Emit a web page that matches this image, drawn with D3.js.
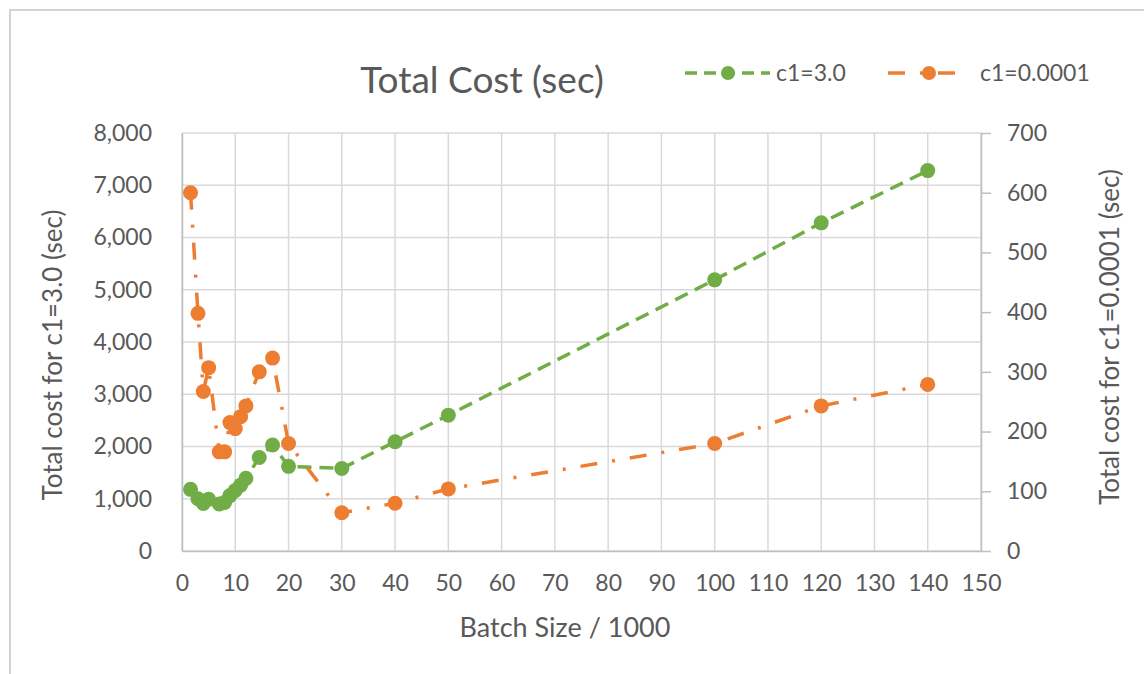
<!DOCTYPE html>
<html>
<head>
<meta charset="utf-8">
<script src="https://cdn.jsdelivr.net/npm/d3@7"></script>
<style>
  body { margin: 0; background: #fff; }
  text { font-family: Lato, "Open Sans", sans-serif; fill: #595959; }
</style>
</head>
<body>
<div id="wrapper"></div>
<script>
// values
const batchSizes = [1.6, 3, 4, 5, 7, 8, 9, 10, 11, 12, 14.5, 17, 20, 30, 40, 50, 100, 120, 140]
const costC1High = [1180, 1000, 910, 990, 900, 930, 1060, 1160, 1260, 1390, 1790, 2030, 1620, 1580, 2090, 2600, 5190, 6280, 7280]
const costC1Low = [600, 398, 267, 307, 166, 166, 215, 205, 225, 243, 300, 323, 180, 64, 80, 104, 180, 243, 279]

const xTicks = [0, 10, 20, 30, 40, 50, 60, 70, 80, 90, 100, 110, 120, 130, 140, 150]
const leftTicks = [0, 1000, 2000, 3000, 4000, 5000, 6000, 7000, 8000]
const rightTicks = [0, 100, 200, 300, 400, 500, 600, 700]

const seriesNames = ["c1=3.0", "c1=0.0001"]
const green = "#70AD47"
const orange = "#ED7D31"

function drawChart() {
  let dimensions = {
    width: 1144,
    height: 674,
    margin: { top: 133, right: 163, bottom: 123, left: 182 },
  }
  dimensions.boundedWidth = dimensions.width - dimensions.margin.left - dimensions.margin.right
  dimensions.boundedHeight = dimensions.height - dimensions.margin.top - dimensions.margin.bottom

  const wrapper = d3.select("#wrapper").append("svg")
    .attr("width", dimensions.width)
    .attr("height", dimensions.height)

  // outer chart border
  wrapper.append("rect")
    .attr("x", 10).attr("y", 10)
    .attr("width", 1200).attr("height", 700)
    .attr("fill", "none")
    .attr("stroke", "#d4d4d4")
    .attr("stroke-width", 2)

  const bounds = wrapper.append("g")
    .attr("transform", `translate(${dimensions.margin.left},${dimensions.margin.top})`)

  // scales
  const xScale = d3.scaleLinear().domain([0, 150]).range([0, dimensions.boundedWidth])
  const yLeft = d3.scaleLinear().domain([0, 8000]).range([dimensions.boundedHeight, 0])
  const yRight = d3.scaleLinear().domain([0, 700]).range([dimensions.boundedHeight, 0])

  // gridlines
  bounds.append("g").selectAll("line").data(leftTicks).join("line")
    .attr("x1", 0).attr("x2", dimensions.boundedWidth)
    .attr("y1", d => yLeft(d)).attr("y2", d => yLeft(d))
    .attr("stroke", "#d9d9d9").attr("stroke-width", 1.5)
  bounds.append("g").selectAll("line").data(xTicks).join("line")
    .attr("x1", d => xScale(d)).attr("x2", d => xScale(d))
    .attr("y1", 0).attr("y2", dimensions.boundedHeight)
    .attr("stroke", "#d9d9d9").attr("stroke-width", 1.5)

  // axes
  const xAxis = bounds.append("g")
    .attr("transform", `translate(0,${dimensions.boundedHeight})`)
    .call(d3.axisBottom(xScale).tickValues(xTicks).tickSize(0).tickPadding(24))
  xAxis.select(".domain").attr("stroke", "#bfbfbf").attr("stroke-width", 1.5)

  const leftAxis = bounds.append("g")
    .call(d3.axisLeft(yLeft).tickValues(leftTicks).tickFormat(d3.format(",")).tickSize(0).tickPadding(30))
  leftAxis.select(".domain").attr("stroke", "#bfbfbf").attr("stroke-width", 1.5)

  const rightAxis = bounds.append("g")
    .attr("transform", `translate(${dimensions.boundedWidth},0)`)
    .call(d3.axisRight(yRight).tickValues(rightTicks).tickSize(10).tickSizeOuter(0).tickPadding(16))
  rightAxis.select(".domain").attr("stroke", "#bfbfbf").attr("stroke-width", 1.5)
  rightAxis.selectAll(".tick line").attr("stroke", "#bfbfbf").attr("stroke-width", 1.5)

  wrapper.selectAll(".tick text")
    .attr("font-size", 23)
    .style("font-family", "Lato, 'Open Sans', sans-serif")
    .attr("fill", "#595959")

  // series
  const greenData = batchSizes.map((x, i) => ({ x, y: costC1High[i] }))
  const orangeData = batchSizes.map((x, i) => ({ x, y: costC1Low[i] }))

  const greenLine = d3.line().x(d => xScale(d.x)).y(d => yLeft(d.y))
  const orangeLine = d3.line().x(d => xScale(d.x)).y(d => yRight(d.y))

  bounds.append("path")
    .attr("d", greenLine(greenData))
    .attr("fill", "none")
    .attr("stroke", green)
    .attr("stroke-width", 3.5)
    .attr("stroke-dasharray", "14,8")

  bounds.append("path")
    .attr("d", orangeLine(orangeData))
    .attr("fill", "none")
    .attr("stroke", orange)
    .attr("stroke-width", 3.5)
    .attr("stroke-dasharray", "17,15,3,15")

  bounds.append("g").selectAll("circle").data(greenData).join("circle")
    .attr("cx", d => xScale(d.x)).attr("cy", d => yLeft(d.y))
    .attr("r", 7.5).attr("fill", green)

  bounds.append("g").selectAll("circle").data(orangeData).join("circle")
    .attr("cx", d => xScale(d.x)).attr("cy", d => yRight(d.y))
    .attr("r", 7.5).attr("fill", orange)

  // titles
  wrapper.append("text")
    .attr("x", 482).attr("y", 93)
    .attr("text-anchor", "middle")
    .attr("font-size", 37)
    .text("Total Cost (sec)")

  wrapper.append("text")
    .attr("x", 565).attr("y", 637)
    .attr("text-anchor", "middle")
    .attr("font-size", 27)
    .text("Batch Size / 1000")

  wrapper.append("text")
    .attr("transform", "translate(62,355) rotate(-90)")
    .attr("text-anchor", "middle")
    .attr("font-size", 26)
    .text("Total cost for c1=3.0 (sec)")

  wrapper.append("text")
    .attr("transform", "translate(1119,337) rotate(-90)")
    .attr("text-anchor", "middle")
    .attr("font-size", 26)
    .text("Total cost for c1=0.0001 (sec)")

  // legend
  const legend = wrapper.append("g").attr("transform", "translate(0,73)")
  legend.append("line")
    .attr("x1", 685).attr("x2", 770).attr("y1", 0).attr("y2", 0)
    .attr("stroke", green).attr("stroke-width", 3.5).attr("stroke-dasharray", "12,7")
  legend.append("circle").attr("cx", 728).attr("cy", 0).attr("r", 7).attr("fill", green)
  legend.append("text").attr("x", 776).attr("y", 8).attr("font-size", 23).text(seriesNames[0])

  legend.append("line")
    .attr("x1", 888).attr("x2", 960).attr("y1", 0).attr("y2", 0)
    .attr("stroke", orange).attr("stroke-width", 3.5).attr("stroke-dasharray", "17,15,3,15")
  legend.append("circle").attr("cx", 929).attr("cy", 0).attr("r", 7).attr("fill", orange)
  legend.append("text").attr("x", 980).attr("y", 8).attr("font-size", 23).text(seriesNames[1])
}

drawChart()
</script>
</body>
</html>
